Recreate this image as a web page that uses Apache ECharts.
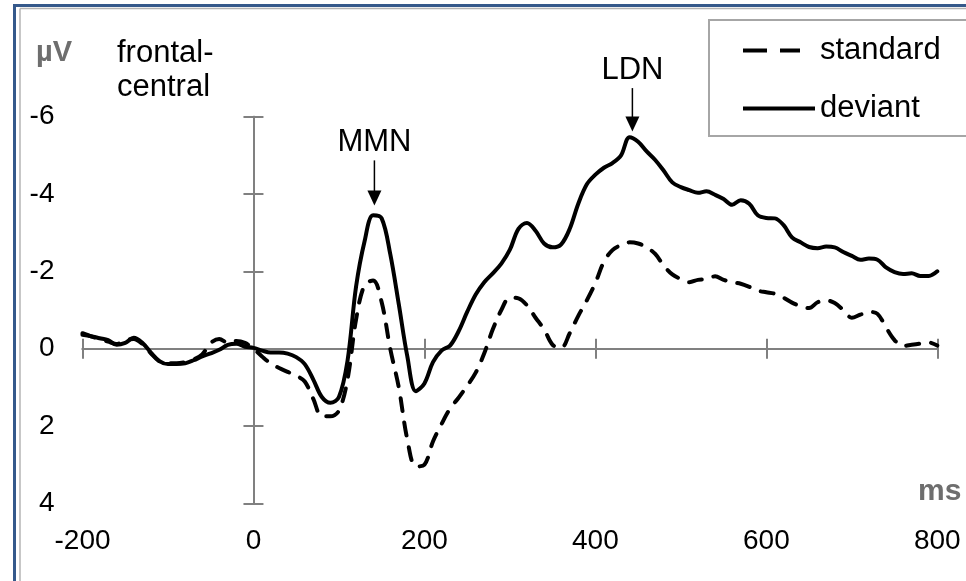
<!DOCTYPE html>
<html><head><meta charset="utf-8">
<script src="https://cdn.jsdelivr.net/npm/echarts@6/dist/echarts.min.js"></script>
<style>html,body{margin:0;padding:0;background:#fff;} #c{width:966px;height:581px;}</style>
</head><body><div id="c"></div>
<script>
const times = [-200,-190,-180,-170,-160,-150,-140,-130,-120,-110,-100,-90,-80,-70,-60,-50,-40,-30,-20,-10,
  0,10,20,30,40,50,60,70,80,90,100,110,120,130,140,150,160,170,180,190,
  200,210,220,230,240,250,260,270,280,290,300,310,320,330,340,350,360,370,380,390,
  400,410,420,430,440,450,460,470,480,490,500,510,520,530,540,550,560,570,580,590,
  600,610,620,630,640,650,660,670,680,690,700,710,720,730,740,750,760,770,780,790,800];
const standard = [-0.40,-0.32,-0.25,-0.18,-0.12,-0.22,-0.25,-0.12,0.12,0.33,
  0.38,0.38,0.35,0.28,0.15,-0.15,-0.25,-0.15,-0.20,-0.15,
  0.00,0.20,0.38,0.50,0.60,0.70,0.85,1.30,1.75,1.75,
  1.60,0.80,-0.75,-1.65,-1.76,-1.20,0.00,1.00,2.35,3.05,
  3.00,2.40,1.95,1.55,1.27,0.96,0.62,0.12,-0.50,-1.00,
  -1.32,-1.30,-1.12,-0.80,-0.50,-0.10,-0.02,-0.40,-0.85,-1.25,
  -1.70,-2.25,-2.55,-2.68,-2.75,-2.72,-2.62,-2.45,-2.15,-1.92,
  -1.80,-1.72,-1.78,-1.80,-1.87,-1.78,-1.72,-1.68,-1.60,-1.50,
  -1.46,-1.42,-1.32,-1.19,-1.10,-1.05,-1.20,-1.25,-1.18,-1.00,
  -0.80,-0.88,-0.95,-0.90,-0.55,-0.22,-0.07,-0.10,-0.13,-0.16,-0.08];
const deviant = [-0.36,-0.32,-0.27,-0.22,-0.10,-0.15,-0.28,-0.15,0.10,0.32,
  0.40,0.40,0.38,0.30,0.20,0.12,0.03,-0.10,-0.13,-0.05,
  -0.02,0.05,0.10,0.10,0.13,0.22,0.40,0.80,1.25,1.40,
  1.25,0.32,-1.60,-2.78,-3.45,-3.37,-2.45,-1.15,0.20,1.10,
  0.90,0.35,0.05,-0.08,-0.45,-0.95,-1.40,-1.72,-1.95,-2.20,
  -2.56,-3.10,-3.25,-3.05,-2.72,-2.62,-2.70,-3.10,-3.75,-4.25,
  -4.50,-4.68,-4.80,-5.00,-5.47,-5.35,-5.10,-4.88,-4.60,-4.30,
  -4.18,-4.10,-4.03,-4.07,-3.98,-3.87,-3.72,-3.84,-3.75,-3.45,
  -3.38,-3.37,-3.20,-2.88,-2.75,-2.63,-2.60,-2.64,-2.62,-2.50,
  -2.40,-2.30,-2.33,-2.30,-2.10,-1.98,-1.93,-1.95,-1.88,-1.88,-2.00];
const xTicks = [-200,0,200,400,600,800];
const yTicks = [-6,-4,-2,0,2,4];
const seriesNames = ['standard','deviant'];
const peakLabels = ['MMN','LDN'];
const peakTimes = [141.5,443.3];
const arrowTips = [-3.70,-5.62];
const arrowTops = [-4.87,-6.74];

const FONT = '"Liberation Sans", Arial, sans-serif';
const AXC = '#808080';
const chart = echarts.init(document.getElementById('c'), null, {renderer:'canvas'});

const xBase = {type:'value', min:xTicks[0], max:xTicks[xTicks.length-1], interval:xTicks[1]-xTicks[0], splitLine:{show:false}};
const yBase = {type:'value', inverse:true, min:yTicks[0], max:yTicks[yTicks.length-1], interval:yTicks[1]-yTicks[0], splitLine:{show:false}};
function lineAxis(base, pos, inside){
  return Object.assign({}, base, {position:pos,
    axisLine:{show:true, onZero:true, onZeroAxisIndex:0, lineStyle:{color:AXC, width:2}},
    axisTick:{show:true, inside:inside, length:10, lineStyle:{color:AXC, width:2}},
    axisLabel:{show:false}});
}

const option = {
  animation:false,
  backgroundColor:'#fff',
  grid:{left:82.5, right:28.7, top:116.7, bottom:77.7, containLabel:false, outerBoundsMode:'none'},
  xAxis:[
    Object.assign({}, xBase, {position:'bottom', axisLine:{show:false, onZero:false}, axisTick:{show:false},
      axisLabel:{color:'#000', fontSize:28, fontFamily:FONT, margin:24}}),
    lineAxis(xBase,'bottom',true),
    lineAxis(xBase,'bottom',false)
  ],
  yAxis:[
    Object.assign({}, yBase, {position:'left', axisLine:{show:false, onZero:false}, axisTick:{show:false},
      axisLabel:{color:'#000', fontSize:28, fontFamily:FONT, margin:28}}),
    lineAxis(yBase,'left',true),
    lineAxis(yBase,'left',false)
  ],
  legend:{orient:'vertical', left:709, top:20, padding:[15,28,12,34], itemGap:27, itemWidth:72, itemHeight:4,
    backgroundColor:'#fff', borderColor:'#a6a6a6', borderWidth:2, borderRadius:0, selectedMode:false,
    textStyle:{fontSize:31, fontFamily:FONT, color:'#000', lineHeight:30},
    data:[
      {name:seriesNames[0], icon:'path://M0,0H24V4H0Z M37,0H57V4H37Z M71.9,1.9H72V2.1H71.9Z', itemStyle:{color:'#000', borderWidth:0}},
      {name:seriesNames[1], icon:'path://M0,0H72V4H0Z', itemStyle:{color:'#000', borderWidth:0}}
    ]},
  series:[
    {name:seriesNames[0], type:'line', xAxisIndex:0, yAxisIndex:0, symbol:'none', smooth:0.35,
      data:times.map((t,i)=>[t, standard[i]]),
      lineStyle:{color:'#000', width:4, type:[13,12], cap:'round', join:'round'}, itemStyle:{color:'#000'}, z:3},
    {name:seriesNames[1], type:'line', xAxisIndex:0, yAxisIndex:0, symbol:'none', smooth:0.35,
      data:times.map((t,i)=>[t, deviant[i]]),
      lineStyle:{color:'#000', width:4, cap:'round', join:'round'}, itemStyle:{color:'#000'}, z:4}
  ]
};
chart.setOption(option);

const g = [
  {type:'line', shape:{x1:13, y1:5.5, x2:966, y2:5.5}, style:{stroke:'#35598b', lineWidth:3}, z:10},
  {type:'line', shape:{x1:14.5, y1:4, x2:14.5, y2:581}, style:{stroke:'#35598b', lineWidth:3}, z:10},
  {type:'line', shape:{x1:20, y1:8.5, x2:966, y2:8.5}, style:{stroke:'#b4b4b4', lineWidth:1.5}, z:10},
  {type:'line', shape:{x1:20, y1:8.5, x2:20, y2:581}, style:{stroke:'#b4b4b4', lineWidth:1.5}, z:10},
  {type:'text', style:{text:'µV', x:36, y:53, font:'bold 29px '+FONT, fill:'#6e6e6e', align:'left', verticalAlign:'middle', textAlign:'left', textVerticalAlign:'middle'}},
  {type:'text', style:{text:'frontal-', x:117, y:53, font:'31px '+FONT, fill:'#000', align:'left', verticalAlign:'middle', textAlign:'left', textVerticalAlign:'middle'}},
  {type:'text', style:{text:'central', x:117, y:87, font:'31px '+FONT, fill:'#000', align:'left', verticalAlign:'middle', textAlign:'left', textVerticalAlign:'middle'}},
  {type:'text', style:{text:'ms', x:918, y:492, font:'bold 30px '+FONT, fill:'#6e6e6e', align:'left', verticalAlign:'middle', textAlign:'left', textVerticalAlign:'middle'}}
];
for (let i=0;i<peakLabels.length;i++){
  const tip = chart.convertToPixel({seriesIndex:1}, [peakTimes[i], arrowTips[i]]);
  const top = chart.convertToPixel({seriesIndex:1}, [peakTimes[i], arrowTops[i]]);
  const hx = tip[0];
  g.push({type:'line', shape:{x1:hx, y1:top[1], x2:hx, y2:tip[1]-14}, style:{stroke:'#000', lineWidth:1.5}});
  g.push({type:'polygon', shape:{points:[[hx-7,tip[1]-15],[hx+7,tip[1]-15],[hx,tip[1]]]}, style:{fill:'#000'}});
  g.push({type:'text', style:{text:peakLabels[i], x:hx, y:top[1]-18, font:'31px '+FONT, fill:'#000', align:'center', verticalAlign:'middle', textAlign:'center', textVerticalAlign:'middle'}});
}
chart.setOption({graphic:{elements:g}});
</script>
</body></html>
